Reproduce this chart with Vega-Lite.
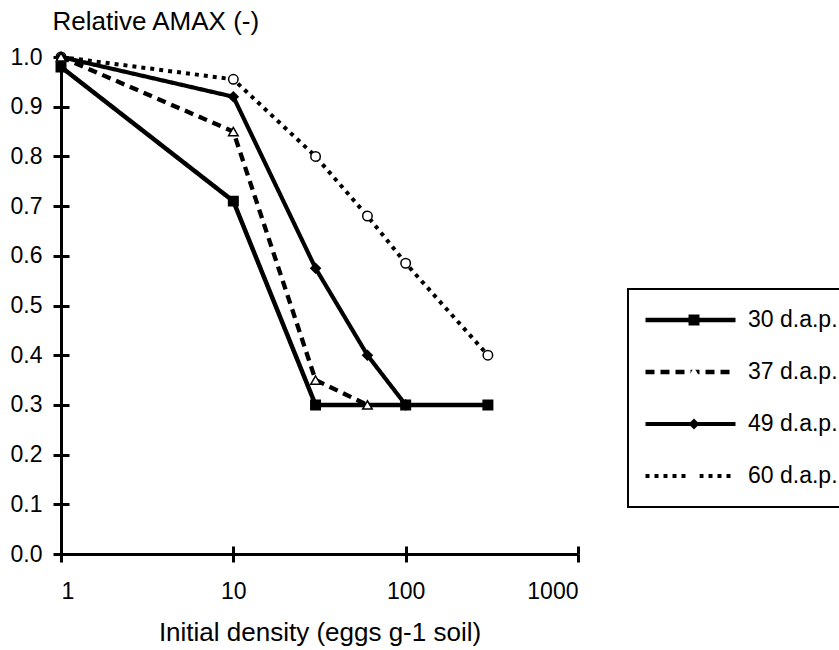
{
  "$schema": "https://vega.github.io/schema/vega-lite/v6.json",
  "autosize": {"type": "none"},
  "width": 517,
  "height": 497,
  "padding": {"left": 61, "top": 57, "right": 261, "bottom": 96},
  "background": "white",
  "config": {
    "view": {"stroke": null},
    "font": "Liberation Sans",
    "axis": {
      "grid": false,
      "domainColor": "black",
      "domainWidth": 3,
      "tickColor": "black",
      "tickWidth": 3,
      "labelColor": "black",
      "labelFont": "Liberation Sans",
      "labelFontSize": 23,
      "titleFont": "Liberation Sans",
      "titleFontSize": 26,
      "titleFontWeight": "normal",
      "titleColor": "black"
    },
    "legend": {
      "labelFont": "Liberation Sans",
      "labelFontSize": 23,
      "labelColor": "black"
    }
  },
  "data": {
    "values": [
      {"series": "60 d.a.p.", "x": 1, "y": 1.0},
      {"series": "60 d.a.p.", "x": 10, "y": 0.955},
      {"series": "60 d.a.p.", "x": 30, "y": 0.80},
      {"series": "60 d.a.p.", "x": 60, "y": 0.68},
      {"series": "60 d.a.p.", "x": 100, "y": 0.585},
      {"series": "60 d.a.p.", "x": 300, "y": 0.40},
      {"series": "49 d.a.p.", "x": 1, "y": 1.0},
      {"series": "49 d.a.p.", "x": 10, "y": 0.92},
      {"series": "49 d.a.p.", "x": 30, "y": 0.575},
      {"series": "49 d.a.p.", "x": 60, "y": 0.40},
      {"series": "49 d.a.p.", "x": 100, "y": 0.30},
      {"series": "37 d.a.p.", "x": 1, "y": 1.0},
      {"series": "37 d.a.p.", "x": 10, "y": 0.85},
      {"series": "37 d.a.p.", "x": 30, "y": 0.35},
      {"series": "37 d.a.p.", "x": 60, "y": 0.30},
      {"series": "30 d.a.p.", "x": 1, "y": 0.98},
      {"series": "30 d.a.p.", "x": 10, "y": 0.71},
      {"series": "30 d.a.p.", "x": 30, "y": 0.30},
      {"series": "30 d.a.p.", "x": 100, "y": 0.30},
      {"series": "30 d.a.p.", "x": 300, "y": 0.30}
    ]
  },
  "resolve": {"axis": {"x": "independent", "y": "independent"}},
  "layer": [
    {
      "mark": {"type": "line", "color": "black", "strokeCap": "butt"},
      "encoding": {
        "x": {
          "field": "x", "type": "quantitative",
          "scale": {"type": "log", "domain": [1, 1000], "nice": false},
          "axis": {
            "orient": "bottom",
            "values": [1, 10, 100, 1000],
            "format": "d",
            "tickSize": 8,
            "labelPadding": 18,
            "title": "Initial density (eggs g-1 soil)",
            "titlePadding": 16
          }
        },
        "y": {
          "field": "y", "type": "quantitative",
          "scale": {"domain": [0, 1], "nice": false},
          "axis": {
            "orient": "left",
            "values": [0, 0.1, 0.2, 0.3, 0.4, 0.5, 0.6, 0.7, 0.8, 0.9, 1.0],
            "format": ".1f",
            "tickSize": 8,
            "labelPadding": 11,
            "title": "Relative AMAX (-)",
            "titleAngle": 0,
            "titleAlign": "left",
            "titleBaseline": "middle",
            "titleX": -9,
            "titleY": -36
          }
        },
        "strokeDash": {
          "field": "series", "type": "nominal",
          "scale": {
            "domain": ["30 d.a.p.", "37 d.a.p.", "49 d.a.p.", "60 d.a.p."],
            "range": [[1, 0], [9, 6], [1, 0], [4, 5]]
          },
          "legend": {
            "title": null,
            "orient": "none",
            "legendX": 567,
            "legendY": 232,
            "padding": 15,
            "clipHeight": 32,
            "rowPadding": 20,
            "symbolType": "stroke",
            "symbolSize": 8100,
            "symbolStrokeColor": "black",
            "labelOffset": 10,
            "strokeColor": "black",
            "zindex": 0,
            "encode": {"legend": {"update": {"strokeWidth": {"value": 2}}}}
          }
        },
        "strokeWidth": {
          "field": "series", "type": "nominal",
          "scale": {
            "domain": ["30 d.a.p.", "37 d.a.p.", "49 d.a.p.", "60 d.a.p."],
            "range": [4.5, 4, 2.5, 2]
          },
          "legend": {
            "title": null,
            "orient": "none",
            "legendX": 567,
            "legendY": 232,
            "padding": 15,
            "clipHeight": 32,
            "rowPadding": 20,
            "symbolType": "stroke",
            "symbolSize": 8100,
            "symbolStrokeColor": "black",
            "labelOffset": 10,
            "strokeColor": "black",
            "zindex": 0,
            "encode": {"legend": {"update": {"strokeWidth": {"value": 2}}}}
          }
        }
      }
    },
    {
      "transform": [{"calculate": "datum.series", "as": "marker"}],
      "mark": {"type": "point", "filled": true, "size": 90, "stroke": "black", "strokeWidth": 1.5, "opacity": 1},
      "encoding": {
        "x": {
          "field": "x", "type": "quantitative",
          "scale": {"type": "log", "domain": [1, 1000], "nice": false},
          "axis": {
            "orient": "bottom",
            "values": [1, 10, 100, 1000],
            "tickSize": -8,
            "domain": false,
            "labels": false,
            "title": null
          }
        },
        "y": {
          "field": "y", "type": "quantitative",
          "scale": {"domain": [0, 1], "nice": false},
          "axis": {
            "orient": "left",
            "values": [0, 0.1, 0.2, 0.3, 0.4, 0.5, 0.6, 0.7, 0.8, 0.9, 1.0],
            "tickSize": -8,
            "domain": false,
            "labels": false,
            "title": null
          }
        },
        "shape": {
          "field": "marker", "type": "nominal",
          "scale": {"range": ["square", "triangle-up", "diamond", "circle"]},
          "legend": {
            "title": null,
            "orient": "none",
            "legendX": 567,
            "legendY": 232,
            "padding": 15,
            "clipHeight": 32,
            "rowPadding": 20,
            "symbolSize": 120,
            "symbolStrokeColor": "black",
            "symbolStrokeWidth": 2,
            "symbolOffset": 39.5,
            "labelExpr": "''",
            "zindex": 2,
            "encode": {"symbols": {"update": {"stroke": {"value": "black"}, "strokeWidth": {"value": 2}, "strokeOpacity": {"value": 1}, "opacity": {"value": 1}, "size": {"value": 120}}}}
          }
        },
        "fill": {
          "field": "marker", "type": "nominal",
          "scale": {"range": ["black", "white", "black", "white"]},
          "legend": {
            "title": null,
            "orient": "none",
            "legendX": 567,
            "legendY": 232,
            "padding": 15,
            "clipHeight": 32,
            "rowPadding": 20,
            "symbolSize": 120,
            "symbolStrokeColor": "black",
            "symbolStrokeWidth": 2,
            "symbolOffset": 39.5,
            "labelExpr": "''",
            "zindex": 2,
            "encode": {"symbols": {"update": {"stroke": {"value": "black"}, "strokeWidth": {"value": 2}, "strokeOpacity": {"value": 1}, "opacity": {"value": 1}, "size": {"value": 120}}}}
          }
        }
      }
    }
  ]
}
